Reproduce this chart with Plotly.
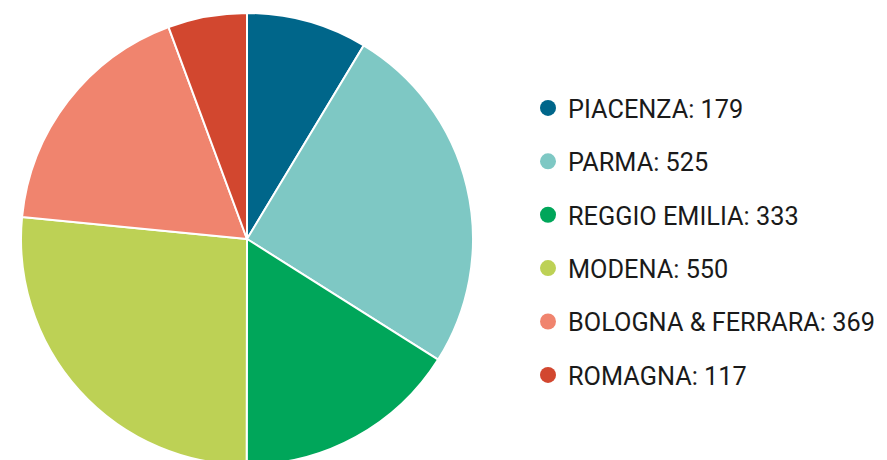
import plotly.graph_objects as go

regions = ["PIACENZA", "PARMA", "REGGIO EMILIA", "MODENA", "BOLOGNA & FERRARA", "ROMAGNA"]
counts = [179, 525, 333, 550, 369, 117]
colors = ["#00668A", "#7EC8C4", "#00A65A", "#BDD155", "#F0846E", "#D2472F"]

W, H = 887, 460
T, B = 5, 3

fig = go.Figure()
fig.add_trace(go.Pie(
    labels=regions, values=counts, sort=False, direction="clockwise", rotation=0,
    marker=dict(colors=colors, line=dict(color="white", width=2)),
    textinfo="none", hoverinfo="label+value", showlegend=False,
    domain=dict(x=[0, 478 / W], y=[0, 1]),
))

for name, val, col in zip(regions, counts, colors):
    fig.add_trace(go.Scatter(
        x=[None], y=[None], mode="markers", name=f"{name}: {val}",
        legendgroup=name,
        marker=dict(symbol="circle", size=18, color=col),
    ))

fig.update_layout(
    width=W, height=H,
    margin=dict(l=0, r=0, t=T, b=B, autoexpand=False),
    paper_bgcolor="white", plot_bgcolor="white",
    xaxis=dict(visible=False), yaxis=dict(visible=False),
    font=dict(family="Roboto, sans-serif", color="#1a1a1a"),
    showlegend=True,
    legend=dict(
        x=520 / W, xanchor="left",
        y=(H - B - 233.5) / (H - T - B), yanchor="middle",
        font=dict(size=25.3, family="Roboto, sans-serif", color="#1a1a1a"),
        tracegroupgap=17.5, bgcolor="rgba(0,0,0,0)",
        maxheight=1.0,
        itemclick=False, itemdoubleclick=False,
    ),
)

fig.write_html("out.html")
